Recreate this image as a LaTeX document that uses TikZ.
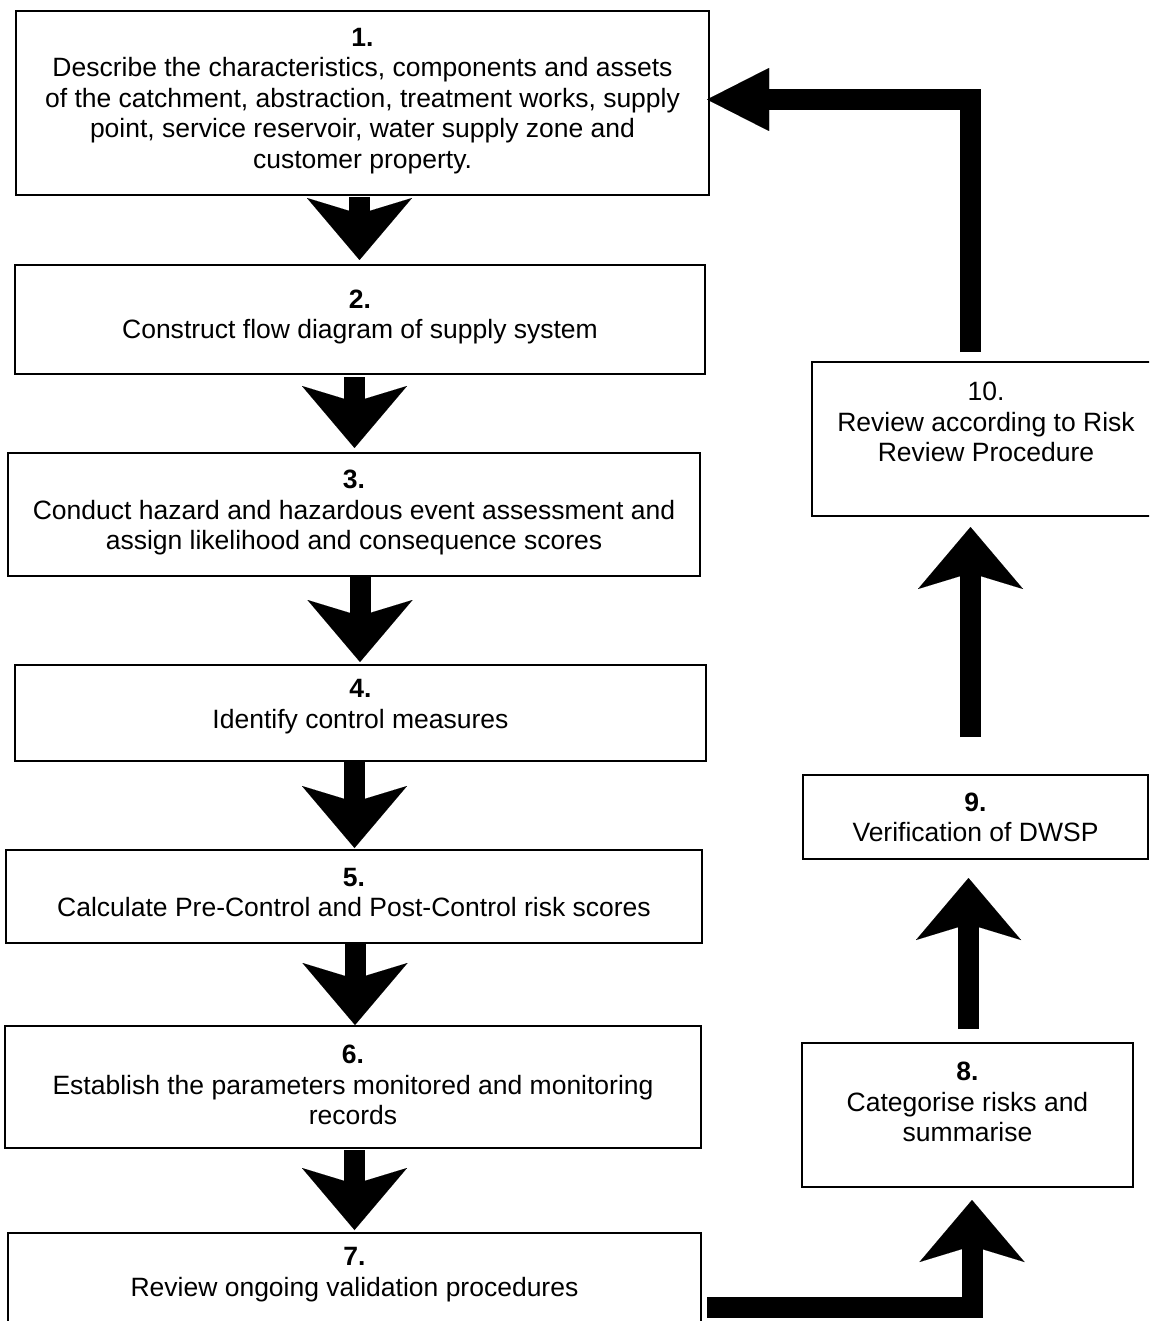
\documentclass[tikz,border=0pt]{standalone}
\usepackage{fontspec}
\setmainfont{Liberation Sans}
\usetikzlibrary{arrows.meta,calc}
\begin{document}
\begin{tikzpicture}[x=1pt,y=-1pt,
  box/.style={draw, line width=1.8pt, inner sep=0pt, outer sep=0pt},
  txt/.style={align=center, inner sep=0pt, font=\fontsize{26.5}{30.5}\selectfont},
  arw/.style={line width=21pt, -{Stealth[length=62pt,width=105pt,inset=16pt,line width=0.01pt]}},
  fbk/.style={line width=21pt, -{Triangle[length=62pt,width=63pt,line width=0.01pt]}}]
\useasboundingbox (0,0) rectangle (1149,1321);
\clip (0,0) rectangle (1149,1321);
% boxes
\node[box, minimum width=693pt, minimum height=184pt] (b1) at (362.5,103) {};
\node[box, minimum width=690pt, minimum height=109pt] (b2) at (360,319.5) {};
\node[box, minimum width=692pt, minimum height=123pt] (b3) at (354,514.5) {};
\node[box, minimum width=691pt, minimum height=96pt] (b4) at (360.5,713) {};
\node[box, minimum width=696pt, minimum height=93pt] (b5) at (354,896.5) {};
\node[box, minimum width=696pt, minimum height=122pt] (b6) at (353,1087) {};
\node[box, minimum width=693pt, minimum height=148pt] (b7) at (354.5,1307) {};
\node[box, minimum width=331pt, minimum height=144pt] (b8) at (967.5,1115) {};
\node[box, minimum width=345pt, minimum height=84pt] (b9) at (975.5,817) {};
\node[box, minimum width=348pt, minimum height=154pt] (b10) at (986,439) {};
% texts
\node[txt] (t1) at (362.5,101) {\textbf{1.}\\Describe the characteristics, components and assets\\of the catchment, abstraction, treatment works, supply\\point, service reservoir, water supply zone and\\customer property.};
\node[txt] (t2) at (360,317) {\textbf{2.}\\Construct flow diagram of supply system};
\node[txt] (t3) at (354,512.5) {\textbf{3.}\\Conduct hazard and hazardous event assessment and\\assign likelihood and consequence scores};
\node[txt] (t4) at (360.5,706.5) {\textbf{4.}\\Identify control measures};
\node[txt] (t5) at (354,892.5) {\textbf{5.}\\Calculate Pre-Control and Post-Control risk scores};
\node[txt] (t6) at (353,1085) {\textbf{6.}\\Establish the parameters monitored and monitoring\\records};
\node[txt] (t7) at (354.5,1274.5) {\textbf{7.}\\Review ongoing validation procedures};
\node[txt] (t8) at (967.5,1102) {\textbf{8.}\\Categorise risks and\\summarise};
\node[txt] (t9) at (975.5,817.5) {\textbf{9.}\\Verification of DWSP};
\node[txt] (t10) at (986,422) {10.\\Review according to Risk\\Review Procedure};
% down arrows
\draw[arw] ($(b1.south)+(-3,2)$) -- ($(b1.south |- b2.north)+(-3,-5)$);
\draw[arw] ($(b2.south)+(-5.5,3)$) -- ($(b2.south |- b3.north)+(-5.5,-5)$);
\draw[arw] ($(b3.south)+(6,1)$) -- ($(b3.south |- b4.north)+(6,-3)$);
\draw[arw] ($(b4.south)+(-6,1)$) -- ($(b4.south |- b5.north)+(-6,-2)$);
\draw[arw] ($(b5.south)+(1,1)$) -- ($(b5.south |- b6.north)+(1,-1)$);
\draw[arw] ($(b6.south)+(1.5,2)$) -- ($(b6.south |- b7.north)+(1.5,-3)$);
% right column
\draw[arw] ($(b7.east)+(6,0)$) -| ($(b8.south)+(4.5,13)$);
\draw[arw] ($(b8.north)+(1,-14)$) -- ($(b8.north |- b9.south)+(1,19)$);
\draw[arw] ($(b9.north)+(-5,-38)$) -- ($(b9.north |- b10.south)+(-5,11)$);
\draw[fbk] ($(b10.north)+(-16,-10)$) |- ($(b1.east)+(-2,-3.5)$);
\end{tikzpicture}
\end{document}
